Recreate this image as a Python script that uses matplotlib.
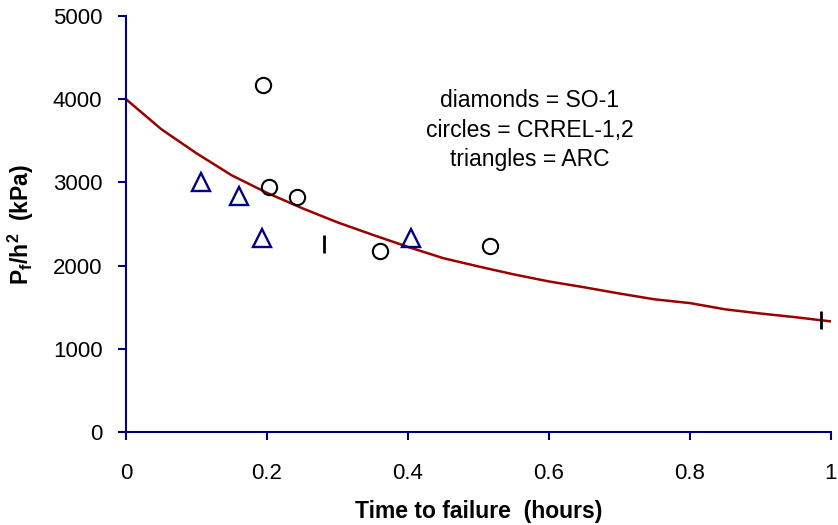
import matplotlib.pyplot as plt
import numpy as np

plt.rcParams['font.family'] = ['Liberation Sans', 'DejaVu Sans']
plt.rcParams['mathtext.fontset'] = 'custom'
plt.rcParams['mathtext.rm'] = 'Liberation Sans'
plt.rcParams['mathtext.bf'] = 'Liberation Sans:bold'

# fitted curve
curve_t = [0, 0.05, 0.1, 0.15, 0.2, 0.25, 0.3, 0.35, 0.4, 0.45, 0.5,
           0.55, 0.6, 0.65, 0.7, 0.75, 0.8, 0.85, 0.9, 0.95, 1.0]
curve_p = [4000, 3640, 3350, 3085, 2875, 2690, 2520, 2370, 2225, 2090, 1990,
           1895, 1810, 1740, 1665, 1595, 1550, 1475, 1425, 1380, 1330]

# ARC (triangles)
arc_t = [0.107, 0.160, 0.193, 0.404]
arc_p = [3005, 2836, 2332, 2332]

# CRREL-1,2 (circles)
crrel_t = [0.194, 0.203, 0.243, 0.360, 0.516]
crrel_p = [4171, 2945, 2825, 2175, 2236]

# SO-1
so_t = [0.281, 0.986]
so_p = [2260, 1346]

fig = plt.figure(figsize=(8.38, 5.25), dpi=100)
ax = fig.add_axes([0.1504, 0.177, 0.8412, 0.7925])

ax.plot(curve_t, curve_p, color='#990000', lw=1.8, zorder=2)
ax.plot(arc_t, arc_p, ls='none', marker='^', ms=12.5, mfc='none',
        mec='#000080', mew=1.7, zorder=3)
ax.plot(crrel_t, crrel_p, ls='none', marker='o', ms=11, mfc='none',
        mec='black', mew=1.5, zorder=3)
ax.plot(so_t, so_p, ls='none', marker='|', ms=12.5, mec='black', mew=2, zorder=3)

ax.set_xlim(0, 1)
ax.set_ylim(0, 5000)
ax.set_xticks(np.arange(0, 1.01, 0.2))
ax.set_xticklabels(['0', '0.2', '0.4', '0.6', '0.8', '1'])
ax.set_yticks(np.arange(0, 5001, 1000))

for s in ['top', 'right']:
    ax.spines[s].set_visible(False)
for s in ['left', 'bottom']:
    ax.spines[s].set_color('#000080')
    ax.spines[s].set_linewidth(1.5)
ax.tick_params(direction='out', length=6, width=1.5, color='#000080',
               labelsize=16)
ax.tick_params(axis='y', pad=11)
ax.tick_params(axis='x', pad=16)

ax.set_xlabel('Time to failure  (hours)', fontsize=16.5, fontweight='bold', labelpad=12)
ax.set_ylabel(r'$\mathbf{P_f/h^2}$  (kPa)', fontsize=16.5, fontweight='bold', labelpad=12)

for i, s in enumerate(['diamonds = SO-1', 'circles = CRREL-1,2', 'triangles = ARC']):
    ax.text(0.573, 3990 - i * 360, s, ha='center', va='center', fontsize=16.5)

fig.savefig('out.png', dpi=100)
